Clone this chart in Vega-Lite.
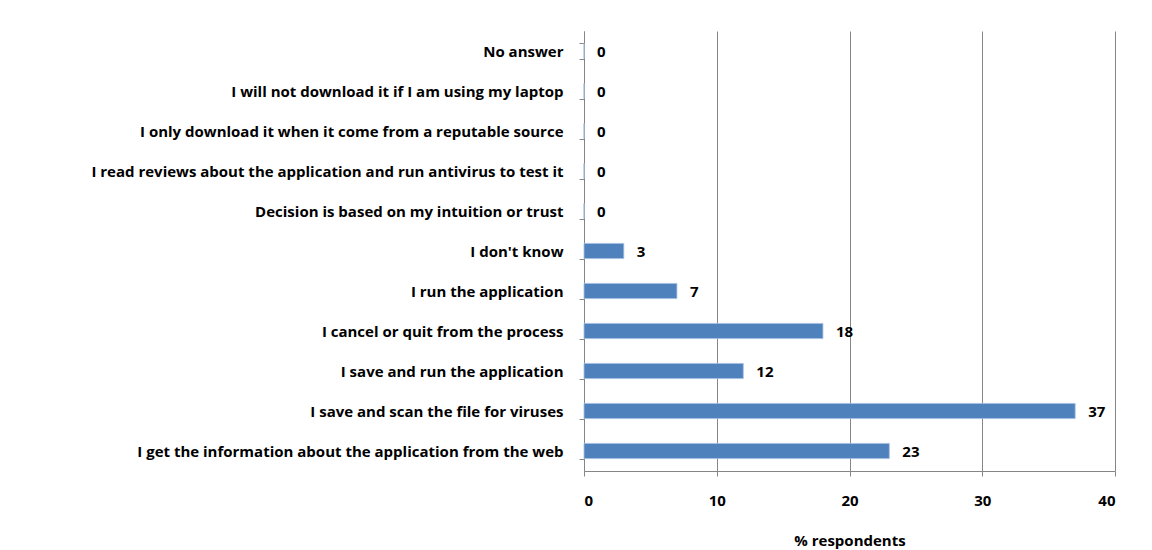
{
  "$schema": "https://vega.github.io/schema/vega-lite/v6.json",
  "autosize": {"type": "none"},
  "width": 531,
  "height": 440,
  "padding": {"left": 584, "top": 31, "right": 37, "bottom": 79},
  "background": "white",
  "config": {
    "view": {"stroke": null},
    "font": "Open Sans",
    "axis": {"labelFont": "Open Sans", "titleFont": "Open Sans", "labelFontWeight": "bold", "titleFontWeight": "bold", "labelColor": "black", "titleColor": "black", "labelFontSize": 15, "titleFontSize": 15, "domainColor": "#868686", "tickColor": "#868686", "gridColor": "#868686", "gridOpacity": 1}
  },
  "data": {
    "values": [
      {"response": "No answer", "pct": 0},
      {"response": "I will not download it if I am using my laptop", "pct": 0},
      {"response": "I only download it when it come from a reputable source", "pct": 0},
      {"response": "I read reviews about the application and run antivirus to test it", "pct": 0},
      {"response": "Decision is based on my intuition or trust", "pct": 0},
      {"response": "I don't know", "pct": 3},
      {"response": "I run the application", "pct": 7},
      {"response": "I cancel or quit from the process", "pct": 18},
      {"response": "I save and run the application", "pct": 12},
      {"response": "I save and scan the file for viruses", "pct": 37},
      {"response": "I get the information about the application from the web", "pct": 23}
    ]
  },
  "encoding": {
    "y": {
      "field": "response", "type": "nominal", "sort": null, "title": null,
      "scale": {"paddingInner": 0.62, "paddingOuter": 0.31},
      "axis": {"tickBand": "extent", "tickSize": 5, "labelPadding": 16, "grid": false, "labelLimit": 600}
    },
    "x": {
      "field": "pct", "type": "quantitative", "title": "% respondents",
      "scale": {"domain": [0, 40], "nice": false},
      "axis": {"values": [0, 10, 20, 30, 40], "grid": true, "tickSize": 5, "labelPadding": 17, "titlePadding": 25, "format": "d"}
    }
  },
  "layer": [
    {"mark": {"type": "bar", "color": "#4F81BD", "stroke": "#A7C0E0", "strokeWidth": 0.8}},
    {"mark": {"type": "text", "align": "left", "baseline": "middle", "dx": 13, "dy": 1, "fontWeight": "bold", "fontSize": 15, "font": "Open Sans", "color": "black"},
     "encoding": {"text": {"field": "pct", "type": "quantitative"}}}
  ]
}
